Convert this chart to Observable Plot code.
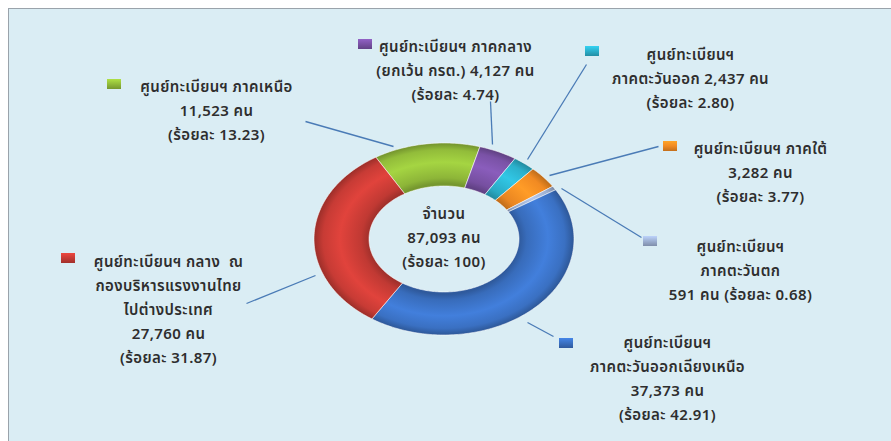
<!DOCTYPE html>
<html>
<head>
<meta charset="utf-8">
<script src="https://cdn.jsdelivr.net/npm/d3@7"></script>
<script src="https://cdn.jsdelivr.net/npm/@observablehq/plot@0.6"></script>
<style>
  html, body { margin: 0; padding: 0; background: #ffffff; }
  #wrap { position: relative; width: 891px; height: 441px; overflow: hidden; background: #ffffff; }
  #panel { position: absolute; left: 8px; top: 8px; right: 0; bottom: 0; background: #daedf4;
           border-left: 1.5px solid #9aa3ab; border-top: 1.5px solid #9aa3ab; }
  #chart { position: absolute; left: 0; top: 0; }
</style>
</head>
<body>
<div id="wrap"><div id="panel"></div><div id="chart"></div></div>
<script>
// ---------------- DATA ----------------
const categories = [
  "ศูนย์ทะเบียนฯ ภาคเหนือ",
  "ศูนย์ทะเบียนฯ ภาคกลาง (ยกเว้น กรต.)",
  "ศูนย์ทะเบียนฯ ภาคตะวันออก",
  "ศูนย์ทะเบียนฯ ภาคใต้",
  "ศูนย์ทะเบียนฯ ภาคตะวันตก",
  "ศูนย์ทะเบียนฯ ภาคตะวันออกเฉียงเหนือ",
  "ศูนย์ทะเบียนฯ กลาง ณ กองบริหารแรงงานไทยไปต่างประเทศ"
];
const counts   = [11523, 4127, 2437, 3282, 591, 37373, 27760];
const percents = [13.23, 4.74, 2.80, 3.77, 0.68, 42.91, 31.87];
const labelTexts = [
  "ศูนย์ทะเบียนฯ ภาคเหนือ\n11,523 คน\n(ร้อยละ 13.23)",
  "ศูนย์ทะเบียนฯ ภาคกลาง\n(ยกเว้น กรต.) 4,127 คน\n(ร้อยละ 4.74)",
  "ศูนย์ทะเบียนฯ\nภาคตะวันออก 2,437 คน\n(ร้อยละ 2.80)",
  "ศูนย์ทะเบียนฯ ภาคใต้\n3,282 คน\n(ร้อยละ 3.77)",
  "ศูนย์ทะเบียนฯ\nภาคตะวันตก\n591 คน (ร้อยละ 0.68)",
  "ศูนย์ทะเบียนฯ\nภาคตะวันออกเฉียงเหนือ\n37,373 คน\n(ร้อยละ 42.91)",
  "ศูนย์ทะเบียนฯ กลาง  ณ\nกองบริหารแรงงานไทย\nไปต่างประเทศ\n27,760 คน\n(ร้อยละ 31.87)"
];
const centerText = "จำนวน\n87,093 คน\n(ร้อยละ 100)";

// ---------------- STYLE / LAYOUT ----------------
const colors = ["#92bc3a", "#7a52a6", "#2bb0cb", "#f18a22", "#9db0d2", "#3a70c2", "#c73b35"];
const W = 891, H = 441;
const cx = 443.5, cy = 238.5, rxO = 130, ryO = 96, rxI = 75, ryI = 53;
const rotation = -31.6 * Math.PI / 180;
// label layout: text center x, first line y, marker x/y, leader from (lx1,ly1) to (lx2,ly2)
const layout = [
  {tx: 216, ty: 84,  mx: 114, my: 84,  lx1: 305, ly1: 121, lx2: 393, ly2: 146},
  {tx: 455, ty: 44,  mx: 365, my: 44,  lx1: 490, ly1: 101, lx2: 492, ly2: 144},
  {tx: 690, ty: 52,  mx: 592, my: 51,  lx1: 586, ly1: 64,  lx2: 527, ly2: 159},
  {tx: 760, ty: 146, mx: 670, my: 146, lx1: 658, ly1: 146, lx2: 549, ly2: 175},
  {tx: 740, ty: 244, mx: 650, my: 241, lx1: 641, ly1: 237, lx2: 561, ly2: 188},
  {tx: 667, ty: 340, mx: 566, my: 343, lx1: 553, ly1: 336, lx2: 527, ly2: 322},
  {tx: 168, ty: 259, mx: 68,  my: 258, lx1: 246, ly1: 303, lx2: 315, ly2: 275}
];

// ---------------- GEOMETRY FROM DATA ----------------
const pie = d3.pie().sort(null).startAngle(rotation).endAngle(rotation + 2 * Math.PI);
const arcs = pie(counts);
const pt = (a, rx, ry) => ({x: cx + rx * Math.sin(a), y: cy - ry * Math.cos(a)});
function slicePoly(a0, a1, i) {
  const n = Math.max(2, Math.ceil((a1 - a0) / 0.02));
  const pts = [];
  for (let k = 0; k <= n; k++) pts.push({...pt(a0 + (a1 - a0) * k / n, rxO, ryO), i});
  for (let k = n; k >= 0; k--) pts.push({...pt(a0 + (a1 - a0) * k / n, rxI, ryI), i});
  pts.push(pts[0]);
  return pts;
}
const polys = arcs.map((a, i) => slicePoly(a.startAngle, a.endAngle, i));

const labelsData = categories.map((c, i) => ({
  name: c, count: counts[i], pct: percents[i], text: labelTexts[i], ...layout[i]
}));

const font = "Tahoma, 'Noto Sans Thai', 'Noto Sans', 'DejaVu Sans', sans-serif";
const fs = 15;
const marks = [];
polys.forEach((p, i) => {
  marks.push(Plot.line(p, {x: "x", y: "y", fill: `url(#sg${i})`, stroke: "#ffffff", strokeOpacity: 0.55, strokeWidth: 1, curve: "linear"}));
});
marks.push(Plot.link(labelsData, {x1: "lx1", y1: "ly1", x2: "lx2", y2: "ly2", stroke: "#4a7bb6", strokeWidth: 1.3}));
labelsData.forEach((d, i) => {
  marks.push(Plot.rect([d], {x1: d => d.mx - 7, x2: d => d.mx + 7, y1: d => d.my - 5, y2: d => d.my + 5, fill: `url(#mg${i})`}));
});
marks.push(Plot.text(labelsData, {x: "tx", y: "ty", text: "text", lineAnchor: "top", dy: -10, lineHeight: 24 / fs, fontSize: fs, fill: "#2e2e2e", fontWeight: 600}));
marks.push(Plot.text([centerText], {x: () => cx, y: () => 211, text: d => d, lineAnchor: "top", dy: -10, lineHeight: 24 / fs, fontSize: fs, fill: "#2e2e2e", fontWeight: 600}));

const svg = Plot.plot({
  width: W, height: H,
  margin: 0,
  x: {type: "linear", domain: [0, W], range: [0, W], axis: null},
  y: {type: "linear", domain: [0, H], range: [0, H], axis: null},
  style: {background: "transparent", fontFamily: font, letterSpacing: "0.4px"},
  marks
});

// gradients to emulate the bevelled look
const s = d3.select(svg);
const defs = s.insert("defs", ":first-child");
colors.forEach((c, i) => {
  const base = d3.color(c);
  const g = defs.append("radialGradient").attr("id", `sg${i}`)
    .attr("gradientUnits", "userSpaceOnUse").attr("cx", cx).attr("cy", cy).attr("r", rxO)
    .attr("gradientTransform", `translate(${cx},${cy}) scale(1,${ryO / rxO}) translate(${-cx},${-cy})`);
  const f = rxI / rxO;
  [[0, base.darker(0.6)], [f, base.darker(0.6)], [f + 0.06, base.darker(0.1)], [0.8, base.brighter(0.35)],
   [0.93, base], [1, base.darker(0.7)]].forEach(([o, col]) => g.append("stop").attr("offset", o).attr("stop-color", col.formatHex()));
  const m = defs.append("linearGradient").attr("id", `mg${i}`).attr("x1", 0).attr("y1", 0).attr("x2", 0).attr("y2", 1);
  [[0, base.brighter(0.5)], [0.5, base], [1, base.darker(0.6)]].forEach(([o, col]) => m.append("stop").attr("offset", o).attr("stop-color", col.formatHex()));
});

document.getElementById("chart").appendChild(svg);
</script>
</body>
</html>
